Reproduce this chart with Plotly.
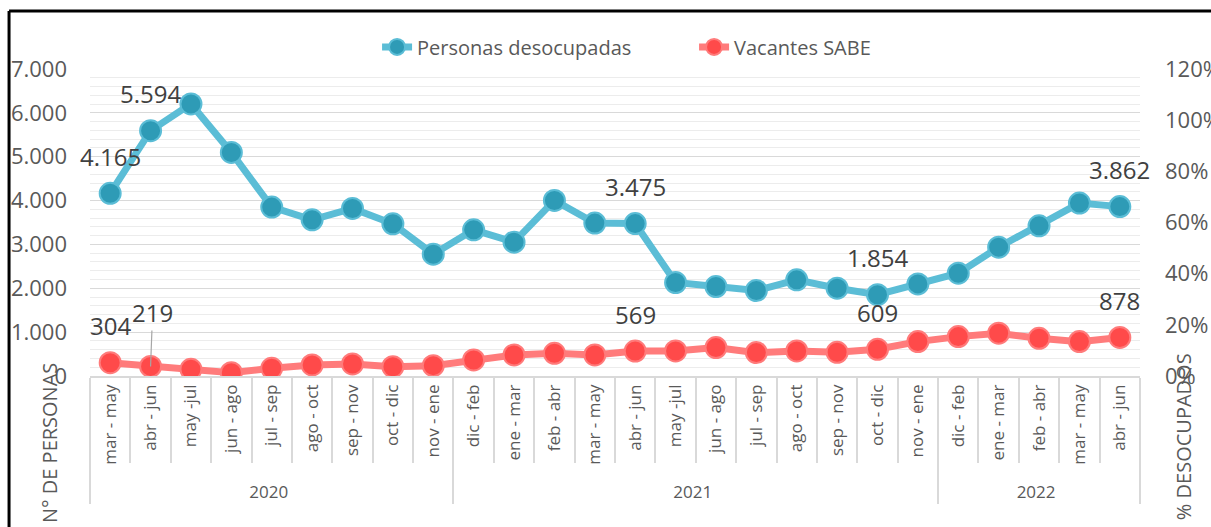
import plotly.graph_objects as go

years = ["2020"] * 9 + ["2021"] * 12 + ["2022"] * 5
periods = [
    "mar - may", "abr - jun", "may -jul", "jun - ago", "jul - sep", "ago - oct",
    "sep - nov", "oct - dic", "nov - ene",
    "dic - feb", "ene - mar", "feb - abr", "mar - may", "abr - jun", "may -jul",
    "jun - ago", "jul - sep", "ago - oct", "sep - nov", "oct - dic", "nov - ene",
    "dic - feb", "ene - mar", "feb - abr", "mar - may", "abr - jun",
]
desocupadas = [4165, 5594, 6203, 5098, 3851, 3562, 3820, 3470, 2778,
               3333, 3052, 4003, 3486, 3475, 2131, 2039, 1948, 2192, 2002, 1854, 2100,
               2344, 2938, 3425, 3943, 3862]
vacantes = [304, 219, 152, 76, 175, 251, 274, 213, 236,
            365, 479, 517, 479, 569, 571, 647, 533, 571, 540, 609, 784,
            898, 975, 860, 784, 878]
# indices that carry a data label
label_idx_desoc = [0, 1, 13, 19, 25]
label_idx_vac = [0, 13, 19, 25]

BLUE_LINE = "#5bbdd6"
BLUE_MARK = "#2e9bb6"
RED_LINE = "#ff7b7b"
RED_MARK = "#ff4a4a"
FONT = "Open Sans"
GREY = "#595959"
LBL = "#404040"

# keep inner categories unique per year so plotly keeps the trace order
year_order = {"2020": 0, "2021": 1, "2022": 2}
inner = [p + "\u200b" * year_order[y] for y, p in zip(years, periods)]
x = [years, inner]

fig = go.Figure()
fig.add_trace(go.Scatter(
    x=x, y=desocupadas, name="Personas desocupadas", mode="lines+markers",
    line=dict(color=BLUE_LINE, width=7),
    marker=dict(color=BLUE_MARK, size=21, line=dict(color=BLUE_LINE, width=2)),
))
fig.add_trace(go.Scatter(
    x=x, y=vacantes, name="Vacantes SABE", mode="lines+markers",
    line=dict(color=RED_LINE, width=7),
    marker=dict(color=RED_MARK, size=21, line=dict(color=RED_LINE, width=2)),
))
fig.add_trace(go.Scatter(
    x=x, y=[None] * len(periods), yaxis="y2", showlegend=False,
    hoverinfo="skip", mode="lines",
))

def fmt(v):
    return f"{v:,}".replace(",", ".")

annotations = []
for i in label_idx_desoc:
    annotations.append(dict(x=i, y=desocupadas[i], xref="x", yref="y",
                            text=fmt(desocupadas[i]), showarrow=False, yshift=37,
                            font=dict(family=FONT, size=24, color=LBL)))
for i in label_idx_vac:
    annotations.append(dict(x=i, y=vacantes[i], xref="x", yref="y",
                            text=fmt(vacantes[i]), showarrow=False, yshift=37,
                            font=dict(family=FONT, size=24, color=LBL)))
# label with leader line
annotations.append(dict(x=1, y=vacantes[1], xref="x", yref="y",
                        text=fmt(vacantes[1]), showarrow=True, arrowhead=0,
                        arrowcolor="#a6a6a6", arrowwidth=1.2, ax=2, ay=-54,
                        standoff=0,
                        font=dict(family=FONT, size=24, color=LBL)))
# axis titles
annotations.append(dict(x=-0.038, y=-0.218, xref="paper", yref="paper",
                        xanchor="center", yanchor="middle",
                        text="N° DE PERSONAS", textangle=-90, showarrow=False,
                        font=dict(family=FONT, size=20, color=GREY)))
annotations.append(dict(x=1.041, y=-0.199, xref="paper", yref="paper",
                        xanchor="center", yanchor="middle",
                        text="% DESOCUPADOS", textangle=-90, showarrow=False,
                        font=dict(family=FONT, size=20, color=GREY)))

fig.update_layout(
    width=1211, height=527,
    margin=dict(l=90, r=71, t=69, b=151, autoexpand=False),
    paper_bgcolor="white", plot_bgcolor="white",
    separators=",.",
    font=dict(family=FONT, color=GREY),
    showlegend=True,
    legend=dict(orientation="h", x=0.2734, xanchor="left", y=1.072, yanchor="middle",
                font=dict(family=FONT, size=20, color=GREY),
                entrywidth=272, entrywidthmode="pixels",
                bgcolor="rgba(0,0,0,0)"),
    xaxis=dict(
        type="multicategory", showgrid=False, zeroline=False, automargin=False,
        showline=True, linecolor="#d9d9d9", linewidth=1.5,
        ticks="outside", tickson="boundaries", ticklen=85, tickcolor="#d9d9d9",
        tickwidth=1.5, tickangle=-90,
        tickfont=dict(family=FONT, size=17, color=GREY),
        showdividers=True, dividercolor="#d9d9d9", dividerwidth=1.5,
        range=[-0.5, 25.5],
    ),
    yaxis=dict(
        range=[0, 7000], dtick=1000, tickformat=",d", automargin=False,
        showgrid=True, gridcolor="#d9d9d9", gridwidth=1.3,
        zeroline=False, showline=False,
        tickfont=dict(family=FONT, size=22, color=GREY),
        ticklabelstandoff=22,
        minor=dict(dtick=200, showgrid=True, gridcolor="#ececec", gridwidth=1.3),
    ),
    yaxis2=dict(
        overlaying="y", side="right", range=[0, 1.2], dtick=0.2, tickformat=".0%",
        showgrid=False, zeroline=False, showline=False, automargin=False,
        tickfont=dict(family=FONT, size=22, color=GREY),
        ticklabelstandoff=24,
    ),
    annotations=annotations,
    shapes=[
        dict(type="line", xref="paper", yref="paper", x0=-0.0771, x1=-0.0771,
             y0=1.189, y1=-0.55, line=dict(color="black", width=3)),
        dict(type="line", xref="paper", yref="paper", x0=-0.0771, x1=1.1,
             y0=1.189, y1=1.189, line=dict(color="black", width=3)),
    ],
)

fig.write_html(
    "out.html",
    config={"displayModeBar": False},
    post_script="document.body.style.margin='0';document.body.style.overflow='hidden';",
)
